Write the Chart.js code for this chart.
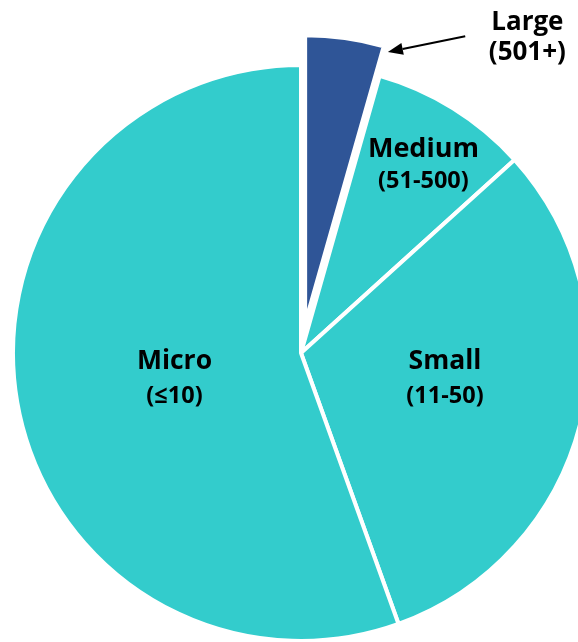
<!DOCTYPE html>
<html><head><meta charset="utf-8">
<script src="https://cdn.jsdelivr.net/npm/chart.js@4"></script>
<style>html,body{margin:0;padding:0;background:#fff;overflow:hidden}</style>
</head><body>
<canvas id="c" width="578" height="642"></canvas>
<script>
const categories = ['Large', 'Medium', 'Small', 'Micro'];
const subLabels = ['(501+)', '(51-500)', '(11-50)', '(≤10)'];
const shares = [4.4, 8.9, 31.2, 55.5];

const sliceColors = ['#2F5597', '#33CCCC', '#33CCCC', '#33CCCC'];
const explode = [30, 0, 0, 0];   // px pulled out along the slice's mid angle
const FONT = '"Open Sans"';
// label placement relative to each slice's mid angle
const placement = [
  {dAngle: 28.4, rf: 1.327, gap: 29.3, s1: 26, s2: 26},
  {dAngle: 2.3, rf: 0.757, gap: 31.6, s1: 27, s2: 23.5},
  {dAngle: -1.1, rf: 0.513, gap: 34, s1: 26.5, s2: 23.5},
  {dAngle: -4.7, rf: 0.454, gap: 34, s1: 26.5, s2: 23.5}
];

const deg = Math.PI / 180;

const explodePlugin = {
  id: 'explodeSlices',
  afterDatasetUpdate(chart, args) {
    const meta = chart.getDatasetMeta(args.index);
    meta.data.forEach((arc, i) => {
      const d = explode[i] || 0;
      if (!d) return;
      const mid = (arc.startAngle + arc.endAngle) / 2;
      arc.x += Math.cos(mid) * d;
      arc.y += Math.sin(mid) * d;
    });
  }
};

const labelPlugin = {
  id: 'sliceLabels',
  afterDatasetsDraw(chart) {
    const meta = chart.getDatasetMeta(0);
    const ctx = chart.ctx;
    const cx = (chart.chartArea.left + chart.chartArea.right) / 2;
    const cy = (chart.chartArea.top + chart.chartArea.bottom) / 2;
    ctx.save();
    ctx.fillStyle = '#000';
    ctx.textAlign = 'center';
    ctx.textBaseline = 'alphabetic';
    meta.data.forEach((arc, i) => {
      const p = placement[i];
      const a = (arc.startAngle + arc.endAngle) / 2 + p.dAngle * deg;
      const r = arc.outerRadius * p.rf;
      const x = cx + Math.cos(a) * r, y = cy + Math.sin(a) * r;
      ctx.font = `bold ${p.s1}px ${FONT}`;
      ctx.fillText(categories[i], x, y - p.gap / 2);
      ctx.font = `bold ${p.s2}px ${FONT}`;
      ctx.fillText(subLabels[i], x, y + p.gap / 2);
    });
    // arrow pointing at the exploded Large slice
    const big = meta.data[0];
    const R = big.outerRadius;
    const tipA = big.endAngle + 0.26 * deg, tailA = big.endAngle + 11.56 * deg;
    const tip = {x: cx + Math.cos(tipA) * R * 1.088, y: cy + Math.sin(tipA) * R * 1.088};
    const tail = {x: cx + Math.cos(tailA) * R * 1.239, y: cy + Math.sin(tailA) * R * 1.239};
    const ang = Math.atan2(tip.y - tail.y, tip.x - tail.x);
    const hl = 15, hw = 6;
    const bx = tip.x - Math.cos(ang) * hl, by = tip.y - Math.sin(ang) * hl;
    ctx.strokeStyle = '#000';
    ctx.lineWidth = 2;
    ctx.beginPath();
    ctx.moveTo(tail.x, tail.y);
    ctx.lineTo(bx, by);
    ctx.stroke();
    ctx.beginPath();
    ctx.moveTo(tip.x, tip.y);
    ctx.lineTo(bx + Math.sin(ang) * hw, by - Math.cos(ang) * hw);
    ctx.lineTo(bx - Math.sin(ang) * hw, by + Math.cos(ang) * hw);
    ctx.closePath();
    ctx.fill();
    ctx.restore();
  }
};

new Chart(document.getElementById('c'), {
  type: 'pie',
  data: {
    labels: categories,
    datasets: [{
      data: shares,
      backgroundColor: sliceColors,
      borderColor: '#ffffff',
      borderWidth: 4,
      clip: false
    }]
  },
  options: {
    responsive: false,
    animation: false,
    radius: 288,
    layout: {padding: {left: 24, right: 0, top: 64, bottom: 0}},
    events: [],
    plugins: {legend: {display: false}, tooltip: {enabled: false}}
  },
  plugins: [explodePlugin, labelPlugin]
});
</script>
</body></html>
